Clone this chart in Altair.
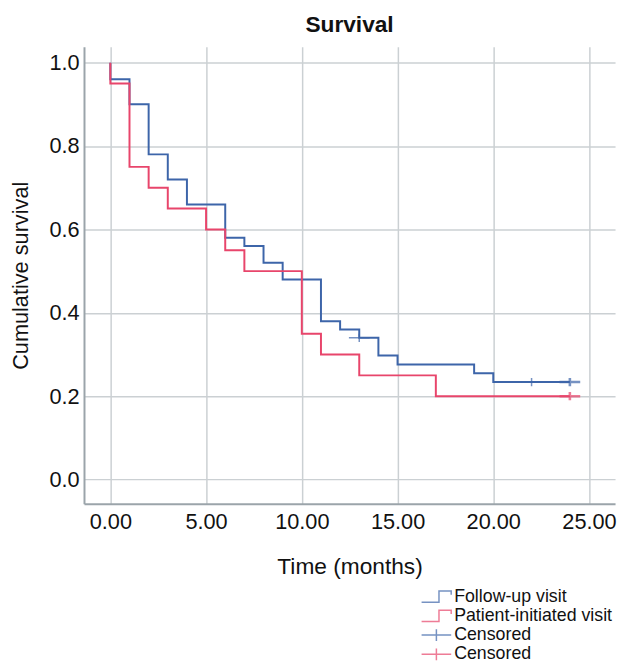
import altair as alt
import pandas as pd

# ---- data ----
fu_time = [0, 0, 1, 2, 3, 4, 6, 7, 8, 9, 11, 12, 13, 14, 15, 19, 20, 24]
fu_surv = [1.0, 0.96, 0.90, 0.78, 0.72, 0.66, 0.58, 0.56, 0.52, 0.48, 0.38, 0.36,
           0.34, 0.2975, 0.276, 0.255, 0.234, 0.234]
pi_time = [0, 0, 1, 2, 3, 5, 6, 7, 10, 11, 13, 17, 24]
pi_surv = [1.0, 0.95, 0.75, 0.70, 0.65, 0.60, 0.55, 0.50, 0.35, 0.30, 0.25, 0.20, 0.20]

fu_cens_time = [13, 22, 24]
fu_cens_surv = [0.34, 0.234, 0.234]
fu_cens_n = [1, 1, 10]
pi_cens_time = [24]
pi_cens_surv = [0.20]
pi_cens_n = [4]

groups = ["Follow-up visit", "Patient-initiated visit", "Censored FU", "Censored PI"]
colors = ["#3d65a9", "#e8456b", "#3d65a9", "#e8456b"]
step_path = "M-2,0.75H0.35V-0.75H2V-0.25"
cross_path = "M-2,0H2M0,-0.8V0.8"
shapes = [step_path, step_path, cross_path, cross_path]

x_ticks = [0, 5, 10, 15, 20, 25]
y_ticks = [0.0, 0.2, 0.4, 0.6, 0.8, 1.0]

# ---- tables ----
fu = pd.DataFrame({"time": fu_time, "surv": fu_surv, "group": groups[0]})
fu["idx"] = range(len(fu))
pi = pd.DataFrame({"time": pi_time, "surv": pi_surv, "group": groups[1]})
pi["idx"] = range(len(pi))
cens = pd.concat([
    pd.DataFrame({"time": fu_cens_time, "surv": fu_cens_surv, "n": fu_cens_n, "group": groups[2]}),
    pd.DataFrame({"time": pi_cens_time, "surv": pi_cens_surv, "n": pi_cens_n, "group": groups[3]}),
], ignore_index=True)

FONT = "Liberation Sans"

x_enc = alt.X("time:Q", scale=alt.Scale(domain=[-1.376, 26.36], nice=False, zero=False),
              axis=alt.Axis(values=x_ticks, format=".2f", title="Time (months)",
                            labelFontSize=22, titleFontSize=23, labelPadding=8, titlePadding=24,
                            ticks=False, domainColor="#9ba4aa", domainWidth=2,
                            gridColor="#cbd0d3", gridWidth=1.5, labelColor="#111111",
                            titleColor="#111111", titleFontWeight="normal",
                            labelFont=FONT, titleFont=FONT))
y_enc = alt.Y("surv:Q", scale=alt.Scale(domain=[-0.058, 1.038], nice=False, zero=False),
              axis=alt.Axis(values=y_ticks, format=".1f", title="Cumulative survival",
                            labelFontSize=22, titleFontSize=22, labelPadding=5, titlePadding=17,
                            ticks=False, domainColor="#9ba4aa", domainWidth=2,
                            gridColor="#cbd0d3", gridWidth=1.5, labelColor="#111111",
                            titleColor="#111111", titleFontWeight="normal",
                            labelFont=FONT, titleFont=FONT))

legend = alt.Legend(title=None, orient="none", legendX=348, legendY=548, padding=0,
                    labelExpr="indexof(datum.label, 'Censored') == 0 ? 'Censored' : datum.label",
                    labelFont=FONT, labelFontSize=18, labelColor="#111111", labelOffset=9,
                    labelLimit=400,
                    symbolSize=225, symbolStrokeWidth=1.5, symbolFillColor="transparent",
                    rowPadding=1.5)
color = alt.Color("group:N", scale=alt.Scale(domain=groups, range=colors), legend=legend)
shape = alt.Shape("group:N", scale=alt.Scale(domain=groups, range=shapes), legend=legend)

line_fu = alt.Chart(fu).mark_line(interpolate="step-after", strokeWidth=2).encode(
    x=x_enc, y=y_enc, color=color, order="idx:Q")
line_pi = alt.Chart(pi).mark_line(interpolate="step-after", strokeWidth=2).encode(
    x=x_enc, y=y_enc, color=color, order="idx:Q")
pts = alt.Chart(cens).mark_point(filled=False, size=110).encode(
    x=x_enc, y=y_enc, color=color, shape=shape,
    strokeWidth=alt.condition("datum.n > 1", alt.value(2.6), alt.value(1.5)))

chart = alt.layer(line_fu, line_pi, pts).properties(
    width=538, height=463,
    padding={"left": 77, "top": 35, "right": 4, "bottom": 158},
    autosize=alt.AutoSizeParams(type="none"),
    title=alt.TitleParams("Survival", fontSize=23, font=FONT, fontWeight="bold",
                          offset=10, anchor="middle", color="#111111"),
).configure_view(stroke=None)

chart.save("out.html", embed_options={"renderer": "svg", "actions": False})
